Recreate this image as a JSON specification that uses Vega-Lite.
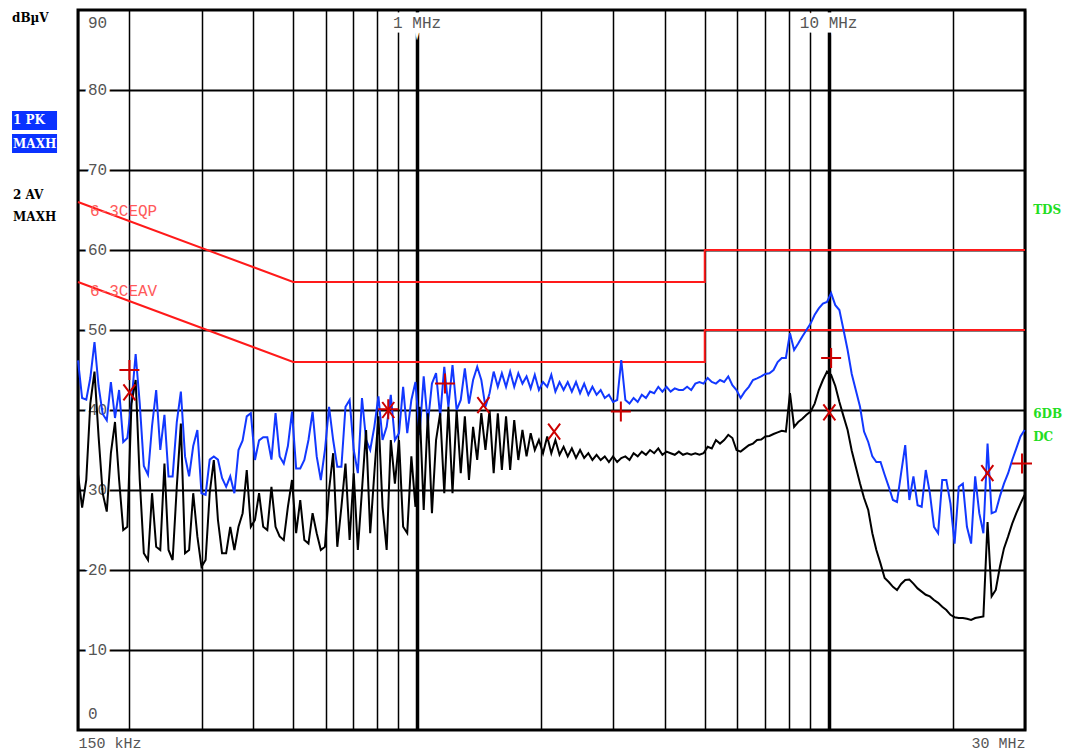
{
  "$schema": "https://vega.github.io/schema/vega-lite/v6.json",
  "width": 947,
  "height": 720,
  "autosize": {"type": "none"},
  "padding": {"left": 78, "top": 10, "right": 42, "bottom": 23},
  "background": "white",
  "config": {
    "view": {"stroke": "#000", "strokeWidth": 3},
    "axis": {"domain": false, "ticks": false}
  },
  "datasets": {
    "tr": [
      {"f":0.15,"pk":46.2,"av":32},{"f":0.1535,"pk":41.5,"av":27.8},{"f":0.1571,"pk":41.3,"av":31.25},{"f":0.1607,"pk":44,"av":40.8},{"f":0.1645,"pk":48.5,"av":44.8},
      {"f":0.1683,"pk":43,"av":36.7},{"f":0.1722,"pk":39.5,"av":29.6},{"f":0.1762,"pk":38.7,"av":27.3},{"f":0.1803,"pk":43.5,"av":34.6},{"f":0.1845,"pk":39,"av":38.5},
      {"f":0.1888,"pk":42.5,"av":31.25},{"f":0.1932,"pk":36,"av":25},{"f":0.1977,"pk":36.5,"av":25.4},{"f":0.2023,"pk":41,"av":40.8},{"f":0.2071,"pk":47,"av":43.75},
      {"f":0.2119,"pk":40.8,"av":31.25},{"f":0.2168,"pk":33,"av":22.1},{"f":0.2219,"pk":31.9,"av":21.25},{"f":0.227,"pk":38,"av":29.6},{"f":0.2323,"pk":42.5,"av":22.9},
      {"f":0.2377,"pk":35,"av":22.5},{"f":0.2433,"pk":39.4,"av":33.3},{"f":0.2489,"pk":31.7,"av":22.5},{"f":0.2547,"pk":31.7,"av":21.25},{"f":0.2607,"pk":38.5,"av":30.4},
      {"f":0.2667,"pk":42.3,"av":38.3},{"f":0.273,"pk":34.2,"av":22.1},{"f":0.2793,"pk":31.7,"av":22.5},{"f":0.2858,"pk":35.5,"av":29.6},{"f":0.2925,"pk":37.5,"av":24.2},
      {"f":0.2993,"pk":29.6,"av":20.4},{"f":0.3063,"pk":29.4,"av":21.25},{"f":0.3134,"pk":33.8,"av":29.6},{"f":0.3207,"pk":34.2,"av":33.75},{"f":0.3282,"pk":33.8,"av":26.25},
      {"f":0.3358,"pk":31.5,"av":22.1},{"f":0.3436,"pk":30.4,"av":22.1},{"f":0.3516,"pk":31.7,"av":25.4},{"f":0.3598,"pk":29.6,"av":22.5},{"f":0.3682,"pk":35,"av":25.4},
      {"f":0.3768,"pk":36.2,"av":27.1},{"f":0.3856,"pk":39.2,"av":32.5},{"f":0.3945,"pk":39.6,"av":25.4},{"f":0.4037,"pk":33.75,"av":26.25},{"f":0.4131,"pk":36.2,"av":29.6},
      {"f":0.4228,"pk":36.6,"av":25.4},{"f":0.4326,"pk":36.6,"av":25},{"f":0.4427,"pk":33.8,"av":30.4},{"f":0.453,"pk":39.6,"av":25.4},{"f":0.4635,"pk":34.2,"av":24.2},
      {"f":0.4743,"pk":33.3,"av":23.75},{"f":0.4854,"pk":35.5,"av":27.9},{"f":0.4967,"pk":39.8,"av":31.25},{"f":0.5083,"pk":32.7,"av":24.6},{"f":0.5201,"pk":32.7,"av":28.75},
      {"f":0.5322,"pk":33.75,"av":23.75},{"f":0.5446,"pk":36.25,"av":23.3},{"f":0.5573,"pk":39.8,"av":27.1},{"f":0.5703,"pk":34.2,"av":24.6},{"f":0.5836,"pk":31.25,"av":22.5},
      {"f":0.5972,"pk":35,"av":22.9},{"f":0.6111,"pk":40.4,"av":30},{"f":0.6253,"pk":36.25,"av":34.6},{"f":0.6399,"pk":32.9,"av":22.9},{"f":0.6548,"pk":32.9,"av":27.9},
      {"f":0.67,"pk":40.4,"av":33.3},{"f":0.6856,"pk":41.25,"av":23.75},{"f":0.7016,"pk":35,"av":32.1},{"f":0.7179,"pk":32.1,"av":22.5},{"f":0.7347,"pk":41.5,"av":30},
      {"f":0.7518,"pk":36.25,"av":37.5},{"f":0.7693,"pk":35,"av":24.6},{"f":0.7872,"pk":37.9,"av":32.1},{"f":0.8055,"pk":41.7,"av":39.2},{"f":0.8243,"pk":36.25,"av":27.9},
      {"f":0.8435,"pk":37.9,"av":22.5},{"f":0.8632,"pk":41.9,"av":36.25},{"f":0.8833,"pk":36.25,"av":30.8},{"f":0.9038,"pk":37.1,"av":36.25},{"f":0.9249,"pk":42.9,"av":25.4},
      {"f":0.9464,"pk":37.1,"av":24.6},{"f":0.9685,"pk":41.25,"av":34.2},{"f":0.991,"pk":43.5,"av":27.9},{"f":1.0141,"pk":36.9,"av":40.4},{"f":1.0377,"pk":44.2,"av":27.5},
      {"f":1.0619,"pk":38.3,"av":39.6},{"f":1.0867,"pk":43.3,"av":27.1},{"f":1.112,"pk":44.6,"av":36.25},{"f":1.1379,"pk":39.2,"av":39.6},{"f":1.1644,"pk":45.4,"av":29.6},
      {"f":1.1915,"pk":40.4,"av":40.4},{"f":1.2192,"pk":45.6,"av":29.6},{"f":1.2476,"pk":40,"av":40},{"f":1.2767,"pk":41.25,"av":32.1},{"f":1.3064,"pk":45.2,"av":39.2},
      {"f":1.3369,"pk":40.8,"av":31.25},{"f":1.368,"pk":43.75,"av":37.9},{"f":1.3999,"pk":45.4,"av":33.75},{"f":1.4325,"pk":43.75,"av":39.6},{"f":1.4659,"pk":40.4,"av":35},
      {"f":1.5,"pk":42.1,"av":40},{"f":1.535,"pk":44.8,"av":32.1},{"f":1.571,"pk":42.9,"av":39.6},{"f":1.607,"pk":44.6,"av":32.5},{"f":1.645,"pk":42.9,"av":39.2},
      {"f":1.683,"pk":44.8,"av":32.5},{"f":1.722,"pk":42.9,"av":38.75},{"f":1.762,"pk":44.6,"av":33.75},{"f":1.803,"pk":43.3,"av":37.5},{"f":1.845,"pk":44.2,"av":34.2},
      {"f":1.888,"pk":42.7,"av":37.1},{"f":1.932,"pk":44.4,"av":35},{"f":1.977,"pk":42.5,"av":36.25},{"f":2.023,"pk":43.5,"av":34.6},{"f":2.071,"pk":42.9,"av":36.7},
      {"f":2.119,"pk":44.4,"av":34.6},{"f":2.168,"pk":42.3,"av":36.25},{"f":2.219,"pk":43.5,"av":34.4},{"f":2.27,"pk":42.5,"av":35.4},{"f":2.323,"pk":43.5,"av":34.2},
      {"f":2.377,"pk":42.3,"av":35.2},{"f":2.433,"pk":43.5,"av":34},{"f":2.489,"pk":42.1,"av":35},{"f":2.547,"pk":43.3,"av":34},{"f":2.607,"pk":41.9,"av":34.6},
      {"f":2.667,"pk":42.9,"av":33.75},{"f":2.73,"pk":41.9,"av":34.4},{"f":2.793,"pk":42.5,"av":33.75},{"f":2.858,"pk":41.5,"av":34.2},{"f":2.925,"pk":41.9,"av":33.5},
      {"f":2.993,"pk":41,"av":34.2},{"f":3.063,"pk":41.25,"av":33.5},{"f":3.134,"pk":46.25,"av":34},{"f":3.207,"pk":41.25,"av":34.2},{"f":3.282,"pk":40.8,"av":33.75},
      {"f":3.358,"pk":41.5,"av":34.6},{"f":3.436,"pk":41,"av":34.2},{"f":3.516,"pk":41.9,"av":34.8},{"f":3.598,"pk":41.5,"av":34.4},{"f":3.682,"pk":42.3,"av":35},
      {"f":3.768,"pk":42.1,"av":34.6},{"f":3.856,"pk":42.9,"av":35.2},{"f":3.945,"pk":42.3,"av":34.4},{"f":4.037,"pk":42.9,"av":34.8},{"f":4.131,"pk":42.3,"av":34.6},
      {"f":4.228,"pk":42.7,"av":34.4},{"f":4.326,"pk":42.5,"av":34.8},{"f":4.427,"pk":42.5,"av":34.4},{"f":4.53,"pk":42.9,"av":34.6},{"f":4.635,"pk":42.5,"av":34.4},
      {"f":4.743,"pk":43.3,"av":34.6},{"f":4.854,"pk":43.5,"av":34.4},{"f":4.967,"pk":43.3,"av":34.6},{"f":5.083,"pk":44,"av":35.4},{"f":5.201,"pk":43.5,"av":35.2},
      {"f":5.322,"pk":43.3,"av":36.25},{"f":5.446,"pk":43.75,"av":35.8},{"f":5.573,"pk":43.5,"av":36.25},{"f":5.703,"pk":44.2,"av":36.9},{"f":5.836,"pk":43.1,"av":36.5},
      {"f":5.972,"pk":42.5,"av":35},{"f":6.111,"pk":41.5,"av":34.8},{"f":6.253,"pk":42.3,"av":35.2},{"f":6.399,"pk":42.9,"av":35.6},{"f":6.548,"pk":43.75,"av":35.8},
      {"f":6.7,"pk":43.96,"av":36.25},{"f":6.856,"pk":44.2,"av":36.3},{"f":7.016,"pk":44.5,"av":36.7},{"f":7.179,"pk":44.6,"av":36.75},{"f":7.347,"pk":45,"av":37},
      {"f":7.518,"pk":46,"av":37.2},{"f":7.693,"pk":46.5,"av":37.4},{"f":7.872,"pk":46.5,"av":37.3},{"f":8.055,"pk":49.6,"av":42.1},{"f":8.243,"pk":47.5,"av":37.9},
      {"f":8.435,"pk":48.3,"av":38.5},{"f":8.632,"pk":49.2,"av":38.9},{"f":8.833,"pk":50,"av":39.4},{"f":9.038,"pk":50.8,"av":39.8},{"f":9.249,"pk":51.9,"av":40.8},
      {"f":9.464,"pk":52.7,"av":42.5},{"f":9.685,"pk":53.3,"av":43.75},{"f":9.91,"pk":53.5,"av":44.8},{"f":10.14,"pk":54.6,"av":44.4},{"f":10.38,"pk":53.1,"av":43},
      {"f":10.62,"pk":52.5,"av":41},{"f":10.87,"pk":50,"av":39.2},{"f":11.12,"pk":47.5,"av":37.5},{"f":11.38,"pk":44.5,"av":34.9},{"f":11.64,"pk":42.5,"av":32.9},
      {"f":11.92,"pk":40.4,"av":30.8},{"f":12.19,"pk":37.3,"av":29},{"f":12.48,"pk":36,"av":27.5},{"f":12.77,"pk":34.2,"av":24.6},{"f":13.06,"pk":33.5,"av":22.5},
      {"f":13.37,"pk":33.5,"av":20.8},{"f":13.68,"pk":31.9,"av":19},{"f":14.0,"pk":30.4,"av":18.5},{"f":14.33,"pk":28.75,"av":17.9},{"f":14.66,"pk":28.5,"av":17.5},
      {"f":15.0,"pk":32.1,"av":18.25},{"f":15.35,"pk":35.6,"av":18.75},{"f":15.71,"pk":28.75,"av":18.8},{"f":16.07,"pk":31.7,"av":18.3},{"f":16.45,"pk":28.1,"av":17.7},
      {"f":16.83,"pk":27.9,"av":17.3},{"f":17.22,"pk":32.5,"av":16.9},{"f":17.62,"pk":29.6,"av":16.7},{"f":18.03,"pk":25.4,"av":16.25},{"f":18.45,"pk":24.6,"av":15.9},
      {"f":18.88,"pk":31.25,"av":15.4},{"f":19.32,"pk":31.25,"av":15},{"f":19.77,"pk":28.3,"av":14.4},{"f":20.23,"pk":23.3,"av":14.1},{"f":20.71,"pk":30.4,"av":14},
      {"f":21.19,"pk":30.8,"av":14},{"f":21.68,"pk":25.4,"av":13.9},{"f":22.19,"pk":23.3,"av":13.75},{"f":22.7,"pk":31.7,"av":14},{"f":23.23,"pk":27.1,"av":14.1},
      {"f":23.77,"pk":24.6,"av":14.2},{"f":24.33,"pk":35.8,"av":26},{"f":24.89,"pk":27.1,"av":16.7},{"f":25.47,"pk":27.3,"av":17.5},{"f":26.07,"pk":29.2,"av":20.4},
      {"f":26.67,"pk":30.8,"av":22.7},{"f":27.3,"pk":32.1,"av":24.2},{"f":27.93,"pk":33.75,"av":25.8},{"f":28.58,"pk":35.2,"av":27.1},{"f":29.25,"pk":36.7,"av":28.3},
      {"f":29.93,"pk":37.5,"av":29.4}
    ],
    "lim": [
      {"f":0.15,"db":66,"k":"QP","o":1},{"f":0.5,"db":56,"k":"QP","o":2},{"f":5,"db":56,"k":"QP","o":3},{"f":5,"db":60,"k":"QP","o":4},{"f":30,"db":60,"k":"QP","o":5},
      {"f":0.15,"db":56,"k":"AV","o":1},{"f":0.5,"db":46,"k":"AV","o":2},{"f":5,"db":46,"k":"AV","o":3},{"f":5,"db":50,"k":"AV","o":4},{"f":30,"db":50,"k":"AV","o":5}
    ],
    "limlab": [
      {"t":"6-3CEQP","lim":66},{"t":"6-3CEAV","lim":56}
    ],
    "mk": [
      {"f":0.2,"db":45,"m":"+"},{"f":0.2,"db":42.2,"m":"x"},
      {"f":0.851,"db":40.1,"m":"+"},{"f":0.851,"db":40,"m":"x"},
      {"f":1.169,"db":43.3,"m":"+"},{"f":1.449,"db":40.6,"m":"x"},
      {"f":2.153,"db":37.3,"m":"x"},{"f":3.127,"db":39.8,"m":"+"},
      {"f":10.14,"db":46.5,"m":"+"},{"f":10.04,"db":39.7,"m":"x"},
      {"f":24.3,"db":32.1,"m":"x"},{"f":29.5,"db":33.3,"m":"+"}
    ],
    "yl": [
      {"v":10,"t":"10"},{"v":20,"t":"20"},{"v":30,"t":"30"},{"v":40,"t":"40"},
      {"v":50,"t":"50"},{"v":60,"t":"60"},{"v":70,"t":"70"},{"v":80,"t":"80"}
    ],
    "xl": [
      {"f":1,"t":"1 MHz"},{"f":10,"t":"10 MHz"}
    ],
    "one": [{}]
  },
  "layer": [
    {
      "data": {"name": "lim"},
      "mark": {"type": "line", "color": "#ff1a1a", "strokeWidth": 2},
      "encoding": {
        "x": {"field": "f", "type": "quantitative", "title": null, "scale": {"type": "log", "domain": [0.15, 30], "nice": false},
          "axis": {
            "values": [0.15,0.2,0.3,0.4,0.5,0.6,0.7,0.8,0.9,1,2,3,4,5,6,7,8,9,10,20,30],
            "grid": true, "gridColor": "#000", "gridOpacity": 1,
            "gridWidth": {"condition": {"test": "datum.value == 1 || datum.value == 10", "value": 3.5}, "value": 1.5},
            "labelExpr": "datum.value == 0.15 ? '150 kHz' : (datum.value == 30 ? '30 MHz' : '')",
            "labelFlush": true, "labelOverlap": false, "labelBound": false,
            "labelFont": "Liberation Mono", "labelFontSize": 15, "labelColor": "#555",
            "labelPadding": 5, "title": null
          }},
        "y": {"field": "db", "type": "quantitative", "title": null, "scale": {"domain": [0, 90], "nice": false, "zero": false},
          "axis": {"values": [10,20,30,40,50,60,70,80], "grid": true, "gridColor": "#000", "gridOpacity": 1, "gridWidth": 2, "labels": false, "title": null}},
        "detail": {"field": "k"},
        "order": {"field": "o"}
      }
    },
    {
      "data": {"name": "yl"},
      "mark": {"type": "text", "align": "left", "baseline": "middle", "font": "Liberation Mono", "fontSize": 16, "fill": "white", "stroke": "white", "strokeWidth": 7},
      "encoding": {
        "x": {"datum": 0.1586, "type": "quantitative", "title": null, "scale": {"type": "log", "domain": [0.15, 30], "nice": false}},
        "y": {"field": "v", "type": "quantitative", "title": null, "scale": {"domain": [0, 90], "nice": false, "zero": false}},
        "text": {"field": "t"}
      }
    },
    {
      "data": {"name": "yl"},
      "mark": {"type": "text", "align": "left", "baseline": "middle", "font": "Liberation Mono", "fontSize": 16, "color": "#555"},
      "encoding": {
        "x": {"datum": 0.1586, "type": "quantitative", "title": null, "scale": {"type": "log", "domain": [0.15, 30], "nice": false}},
        "y": {"field": "v", "type": "quantitative", "title": null, "scale": {"domain": [0, 90], "nice": false, "zero": false}},
        "text": {"field": "t"}
      }
    },
    {
      "data": {"name": "one"},
      "mark": {"type": "text", "align": "left", "baseline": "middle", "font": "Liberation Mono", "fontSize": 16, "color": "#555", "text": "90"},
      "encoding": {
        "x": {"datum": 0.1586, "type": "quantitative", "title": null, "scale": {"type": "log", "domain": [0.15, 30], "nice": false}},
        "y": {"datum": 88.4, "type": "quantitative", "title": null, "scale": {"domain": [0, 90], "nice": false, "zero": false}}
      }
    },
    {
      "data": {"name": "one"},
      "mark": {"type": "text", "align": "left", "baseline": "middle", "font": "Liberation Mono", "fontSize": 16, "color": "#555", "text": "0"},
      "encoding": {
        "x": {"datum": 0.1586, "type": "quantitative", "title": null, "scale": {"type": "log", "domain": [0.15, 30], "nice": false}},
        "y": {"datum": 2.0, "type": "quantitative", "title": null, "scale": {"domain": [0, 90], "nice": false, "zero": false}}
      }
    },
    {
      "data": {"name": "xl"},
      "mark": {"type": "text", "align": "center", "baseline": "middle", "font": "Liberation Mono", "fontSize": 16, "fill": "white", "stroke": "white", "strokeWidth": 9},
      "encoding": {
        "x": {"field": "f", "type": "quantitative", "title": null, "scale": {"type": "log", "domain": [0.15, 30], "nice": false}},
        "y": {"datum": 88.4, "type": "quantitative", "title": null, "scale": {"domain": [0, 90], "nice": false, "zero": false}},
        "text": {"field": "t"}
      }
    },
    {
      "data": {"name": "xl"},
      "mark": {"type": "text", "align": "center", "baseline": "middle", "font": "Liberation Mono", "fontSize": 16, "color": "#555"},
      "encoding": {
        "x": {"field": "f", "type": "quantitative", "title": null, "scale": {"type": "log", "domain": [0.15, 30], "nice": false}},
        "y": {"datum": 88.4, "type": "quantitative", "title": null, "scale": {"domain": [0, 90], "nice": false, "zero": false}},
        "text": {"field": "t"}
      }
    },
    {
      "data": {"name": "limlab"},
      "mark": {"type": "text", "align": "left", "baseline": "middle", "dy": 9, "font": "Liberation Mono", "fontSize": 16, "color": "#ff5a5a"},
      "encoding": {
        "x": {"datum": 0.1604, "type": "quantitative", "title": null, "scale": {"type": "log", "domain": [0.15, 30], "nice": false}},
        "y": {"field": "lim", "type": "quantitative", "title": null, "scale": {"domain": [0, 90], "nice": false, "zero": false}},
        "text": {"field": "t"}
      }
    },
    {
      "data": {"name": "tr"},
      "mark": {"type": "line", "color": "#1238ff", "strokeWidth": 2},
      "encoding": {
        "x": {"field": "f", "type": "quantitative", "title": null, "scale": {"type": "log", "domain": [0.15, 30], "nice": false}},
        "y": {"field": "pk", "type": "quantitative", "title": null, "scale": {"domain": [0, 90], "nice": false, "zero": false}}
      }
    },
    {
      "data": {"name": "tr"},
      "mark": {"type": "line", "color": "#000000", "strokeWidth": 2},
      "encoding": {
        "x": {"field": "f", "type": "quantitative", "title": null, "scale": {"type": "log", "domain": [0.15, 30], "nice": false}},
        "y": {"field": "av", "type": "quantitative", "title": null, "scale": {"domain": [0, 90], "nice": false, "zero": false}}
      }
    },
    {
      "data": {"name": "mk"},
      "mark": {"type": "point", "filled": false, "strokeWidth": 2, "size": 400, "color": "#cc0000", "opacity": 1},
      "encoding": {
        "x": {"field": "f", "type": "quantitative", "title": null, "scale": {"type": "log", "domain": [0.15, 30], "nice": false}},
        "y": {"field": "db", "type": "quantitative", "title": null, "scale": {"domain": [0, 90], "nice": false, "zero": false}},
        "shape": {"field": "m", "type": "nominal", "scale": {"domain": ["+", "x"], "range": ["M-1,0L1,0M0,-1L0,1", "M-0.6,-0.8L0.6,0.8M-0.6,0.8L0.6,-0.8"]}, "legend": null}
      }
    },
    {
      "data": {"name": "one"},
      "mark": {"type": "rect", "color": "#0a32ff"},
      "encoding": {
        "x": {"datum": 0.1037, "type": "quantitative", "title": null, "scale": {"type": "log", "domain": [0.15, 30], "nice": false}},
        "x2": {"datum": 0.1334},
        "y": {"datum": 77.375, "type": "quantitative", "title": null, "scale": {"domain": [0, 90], "nice": false, "zero": false}},
        "y2": {"datum": 75.0}
      }
    },
    {
      "data": {"name": "one"},
      "mark": {"type": "rect", "color": "#0a32ff"},
      "encoding": {
        "x": {"datum": 0.1037, "type": "quantitative", "title": null, "scale": {"type": "log", "domain": [0.15, 30], "nice": false}},
        "x2": {"datum": 0.1334},
        "y": {"datum": 74.5, "type": "quantitative", "title": null, "scale": {"domain": [0, 90], "nice": false, "zero": false}},
        "y2": {"datum": 72.125}
      }
    },
    {
      "data": {"name": "one"},
      "mark": {"type": "text", "align": "left", "baseline": "middle", "font": "DejaVu Serif", "fontWeight": "bold", "fontSize": 12, "color": "#000", "text": "dBµV"},
      "encoding": {
        "x": {"datum": 0.1037, "type": "quantitative", "title": null, "scale": {"type": "log", "domain": [0.15, 30], "nice": false}},
        "y": {"datum": 89.0, "type": "quantitative", "title": null, "scale": {"domain": [0, 90], "nice": false, "zero": false}}
      }
    },
    {
      "data": {"name": "one"},
      "mark": {"type": "text", "align": "left", "baseline": "middle", "font": "DejaVu Serif", "fontWeight": "bold", "fontSize": 12, "color": "#fff", "text": "1  PK"},
      "encoding": {
        "x": {"datum": 0.1043, "type": "quantitative", "title": null, "scale": {"type": "log", "domain": [0.15, 30], "nice": false}},
        "y": {"datum": 76.19, "type": "quantitative", "title": null, "scale": {"domain": [0, 90], "nice": false, "zero": false}}
      }
    },
    {
      "data": {"name": "one"},
      "mark": {"type": "text", "align": "left", "baseline": "middle", "font": "DejaVu Serif", "fontWeight": "bold", "fontSize": 12, "color": "#fff", "text": "MAXH"},
      "encoding": {
        "x": {"datum": 0.1043, "type": "quantitative", "title": null, "scale": {"type": "log", "domain": [0.15, 30], "nice": false}},
        "y": {"datum": 73.31, "type": "quantitative", "title": null, "scale": {"domain": [0, 90], "nice": false, "zero": false}}
      }
    },
    {
      "data": {"name": "one"},
      "mark": {"type": "text", "align": "left", "baseline": "middle", "font": "DejaVu Serif", "fontWeight": "bold", "fontSize": 12, "color": "#000", "text": "2  AV"},
      "encoding": {
        "x": {"datum": 0.1043, "type": "quantitative", "title": null, "scale": {"type": "log", "domain": [0.15, 30], "nice": false}},
        "y": {"datum": 66.875, "type": "quantitative", "title": null, "scale": {"domain": [0, 90], "nice": false, "zero": false}}
      }
    },
    {
      "data": {"name": "one"},
      "mark": {"type": "text", "align": "left", "baseline": "middle", "font": "DejaVu Serif", "fontWeight": "bold", "fontSize": 12, "color": "#000", "text": "MAXH"},
      "encoding": {
        "x": {"datum": 0.1043, "type": "quantitative", "title": null, "scale": {"type": "log", "domain": [0.15, 30], "nice": false}},
        "y": {"datum": 64.125, "type": "quantitative", "title": null, "scale": {"domain": [0, 90], "nice": false, "zero": false}}
      }
    },
    {
      "data": {"name": "one"},
      "mark": {"type": "text", "align": "left", "baseline": "middle", "font": "DejaVu Serif", "fontWeight": "bold", "fontSize": 12, "color": "#22dd22", "text": "TDS"},
      "encoding": {
        "x": {"datum": 31.4, "type": "quantitative", "title": null, "scale": {"type": "log", "domain": [0.15, 30], "nice": false}},
        "y": {"datum": 65.0, "type": "quantitative", "title": null, "scale": {"domain": [0, 90], "nice": false, "zero": false}}
      }
    },
    {
      "data": {"name": "one"},
      "mark": {"type": "text", "align": "left", "baseline": "middle", "font": "DejaVu Serif", "fontWeight": "bold", "fontSize": 12, "color": "#22dd22", "text": "6DB"},
      "encoding": {
        "x": {"datum": 31.4, "type": "quantitative", "title": null, "scale": {"type": "log", "domain": [0.15, 30], "nice": false}},
        "y": {"datum": 39.5, "type": "quantitative", "title": null, "scale": {"domain": [0, 90], "nice": false, "zero": false}}
      }
    },
    {
      "data": {"name": "one"},
      "mark": {"type": "text", "align": "left", "baseline": "middle", "font": "DejaVu Serif", "fontWeight": "bold", "fontSize": 12, "color": "#22dd22", "text": "DC"},
      "encoding": {
        "x": {"datum": 31.4, "type": "quantitative", "title": null, "scale": {"type": "log", "domain": [0.15, 30], "nice": false}},
        "y": {"datum": 36.625, "type": "quantitative", "title": null, "scale": {"domain": [0, 90], "nice": false, "zero": false}}
      }
    }
  ]
}
